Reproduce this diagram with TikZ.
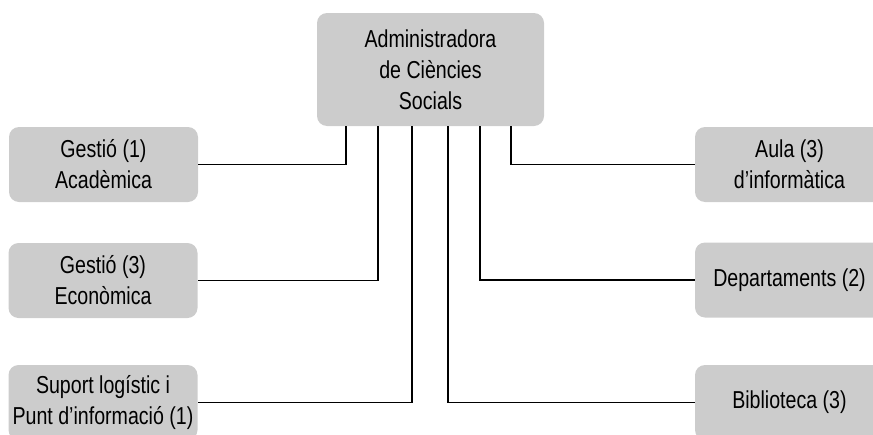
\documentclass[tikz,border=0pt]{standalone}
\usepackage{fontspec}
\setmainfont{Liberation Sans}[FakeStretch=0.8]
\usepackage{tikz}
\usetikzlibrary{positioning}

\begin{document}
\begin{tikzpicture}[x=1pt,y=-1pt,align=center,
		unit/.style={rectangle,rounded corners=10pt,fill=black!20,minimum width=189pt,minimum height=75pt,inner sep=0pt,font=\fontsize{24.5}{31}\selectfont},
		link/.style={draw=black,line width=1.2pt}]
		\useasboundingbox (0,0) rectangle (873,434);
		\node[unit,minimum width=227pt,minimum height=113pt] (adm) at (430.5,69.5) {Administradora\\de Ciències\\Socials};
		\node[unit] (acad) at (103.5,164.5) {Gestió (1)\\Acadèmica};
		\node[unit] (econ) at (103,280.5) {Gestió (3)\\Econòmica};
		\node[unit] (sup) at (103,402.5) {Suport logístic i\\Punt d’informació (1)};
		\node[unit] (aula) at (789.5,164.5) {Aula (3)\\d’informàtica};
		\node[unit] (dep) at (789.5,280) {Departaments (2)};
		\node[unit] (bib) at (789.5,402.5) {Biblioteca (3)};
		\path[link]
			([xshift=-84.5pt]adm.south) |- (acad.east)
			([xshift=-52.5pt]adm.south) |- (econ.east)
			([xshift=-18.5pt]adm.south) |- (sup.east)
			([xshift=17.5pt]adm.south) |- (bib.west)
			([xshift=49.5pt]adm.south) |- (dep.west)
			([xshift=80.5pt]adm.south) |- (aula.west);
	\end{tikzpicture}
\end{document}
